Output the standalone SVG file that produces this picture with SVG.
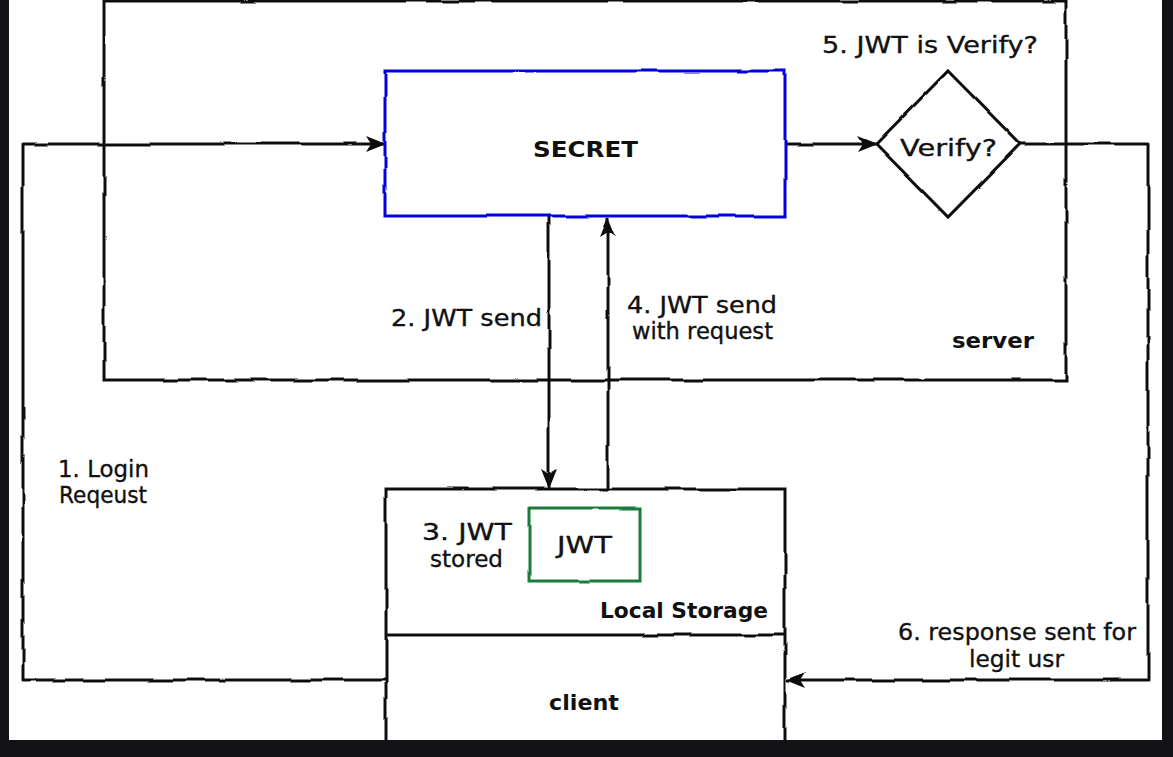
<svg xmlns="http://www.w3.org/2000/svg" width="1173" height="757" viewBox="0 0 1173 757">
<style>
  .t{font-family:"DejaVu Sans","Liberation Sans",sans-serif;font-size:23px;fill:#111;stroke:#111;stroke-width:0.35}
  .b{font-weight:bold;font-size:22px;stroke-width:0}
  .box{fill:#fff;stroke:#111;stroke-width:3;filter:url(#rough)}
  .ln{fill:none;stroke:#111;stroke-width:3;stroke-linejoin:round;filter:url(#rough)}
</style>
<defs>
  <filter id="rough" filterUnits="userSpaceOnUse" x="-20" y="-20" width="1213" height="800">
    <feTurbulence type="fractalNoise" baseFrequency="0.03" numOctaves="1" seed="3" result="n"/>
    <feDisplacementMap in="SourceGraphic" in2="n" scale="4" xChannelSelector="R" yChannelSelector="G"/>
  </filter>
  <marker id="arr" viewBox="0 0 20 18" refX="19" refY="9" markerWidth="20" markerHeight="18" orient="auto" markerUnits="userSpaceOnUse">
    <path d="M0,1 L20,9 L0,17 L5,9 Z" fill="#111"/>
  </marker>
</defs>
<rect x="0" y="0" width="1173" height="757" fill="#fff"/>
<g id="server">
  <rect class="box" x="104" y="1" width="962" height="379"/>
  <text class="t b" x="952" y="348" textLength="82" lengthAdjust="spacingAndGlyphs">server</text>
</g>
<g id="connectors">
  <path class="ln" d="M386,680 L23,680 L23,144 L385,144" marker-end="url(#arr)"/>
  <path class="ln" d="M785,144 L876,144" marker-end="url(#arr)"/>
  <path class="ln" d="M1020,144 L1148,144 L1148,680 L787,680" marker-end="url(#arr)"/>
  <path class="ln" d="M549,217 L549,488" marker-end="url(#arr)"/>
  <path class="ln" d="M608,489 L608,218" marker-end="url(#arr)"/>
</g>
<g id="secret">
  <rect x="385" y="71" width="400" height="145" fill="#fff" stroke="#0000dd" stroke-width="3" filter="url(#rough)"/>
  <text class="t b" x="533" y="157" font-size="24" textLength="105" lengthAdjust="spacingAndGlyphs">SECRET</text>
</g>
<g id="verify">
  <path class="box" d="M948,71 L1020,144 L948,217 L876,144 Z"/>
  <text class="t" x="900" y="156" font-size="26" textLength="97" lengthAdjust="spacingAndGlyphs">Verify?</text>
</g>
<g id="client">
  <rect class="box" x="386" y="489" width="399" height="280"/>
  <line class="ln" x1="386" y1="635" x2="785" y2="635"/>
  <text class="t b" x="600" y="618" textLength="168" lengthAdjust="spacingAndGlyphs">Local Storage</text>
  <text class="t b" x="549" y="710" textLength="70" lengthAdjust="spacingAndGlyphs">client</text>
</g>
<g id="jwt">
  <rect x="530" y="508" width="110" height="74" fill="#fff" stroke="#1b7a3a" stroke-width="3" filter="url(#rough)"/>
  <text class="t" x="557" y="553" textLength="55" lengthAdjust="spacingAndGlyphs">JWT</text>
</g>
<g id="labels">
  <text class="t" x="822" y="53" textLength="216" lengthAdjust="spacingAndGlyphs">5. JWT is Verify?</text>
  <text class="t" x="391" y="326" textLength="151" lengthAdjust="spacingAndGlyphs">2. JWT send</text>
  <text class="t" x="627" y="313" textLength="150" lengthAdjust="spacingAndGlyphs">4. JWT send</text>
  <text class="t" x="632" y="339" textLength="141" lengthAdjust="spacingAndGlyphs">with request</text>
  <text class="t" x="898" y="640" textLength="238" lengthAdjust="spacingAndGlyphs">6. response sent for</text>
  <text class="t" x="969" y="667" textLength="95" lengthAdjust="spacingAndGlyphs">legit usr</text>
  <text class="t" x="58" y="477" textLength="91" lengthAdjust="spacingAndGlyphs">1. Login</text>
  <text class="t" x="59" y="503" textLength="88" lengthAdjust="spacingAndGlyphs">Reqeust</text>
  <text class="t" x="422" y="540" textLength="90" lengthAdjust="spacingAndGlyphs">3. JWT</text>
  <text class="t" x="430" y="567" textLength="73" lengthAdjust="spacingAndGlyphs">stored</text>
</g>
<g id="frame" fill="#121217">
  <rect x="0" y="0" width="9" height="757"/>
  <rect x="1162" y="0" width="11" height="757"/>
  <rect x="0" y="740" width="1173" height="17"/>
</g>
</svg>
